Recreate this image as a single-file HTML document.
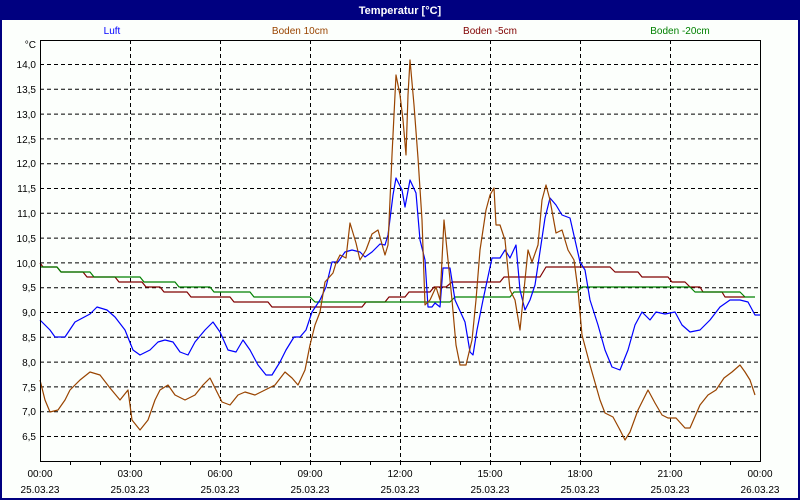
<!DOCTYPE html>
<html><head><meta charset="utf-8"><style>
html,body{margin:0;padding:0;background:#fcfffc}
svg{display:block;font-family:"Liberation Sans",sans-serif}
</style></head><body>
<svg width="800" height="500" viewBox="0 0 800 500" xmlns="http://www.w3.org/2000/svg">
<rect x="0" y="0" width="800" height="500" fill="#fcfffc"/>
<rect x="1" y="1" width="798" height="498" fill="none" stroke="#000080" stroke-width="2"/>
<rect x="0" y="0" width="800" height="20" fill="#000080"/>
<text x="400" y="14" fill="#fff" font-size="11" font-weight="bold" text-anchor="middle">Temperatur [°C]</text>
<g font-size="10" text-anchor="middle">
<text x="112" y="34" fill="#0000ff">Luft</text>
<text x="300" y="34" fill="#994400">Boden 10cm</text>
<text x="490" y="34" fill="#800000">Boden -5cm</text>
<text x="680" y="34" fill="#008000">Boden -20cm</text>
</g>
<text x="36" y="48" font-size="10" text-anchor="end">°C</text>
<g stroke="#000" stroke-dasharray="4,3" stroke-width="1">
<line x1="40" y1="64.5" x2="760" y2="64.5"/><line x1="40" y1="89.3" x2="760" y2="89.3"/><line x1="40" y1="114.1" x2="760" y2="114.1"/><line x1="40" y1="138.9" x2="760" y2="138.9"/><line x1="40" y1="163.7" x2="760" y2="163.7"/><line x1="40" y1="188.5" x2="760" y2="188.5"/><line x1="40" y1="213.3" x2="760" y2="213.3"/><line x1="40" y1="238.1" x2="760" y2="238.1"/><line x1="40" y1="262.9" x2="760" y2="262.9"/><line x1="40" y1="287.7" x2="760" y2="287.7"/><line x1="40" y1="312.5" x2="760" y2="312.5"/><line x1="40" y1="337.3" x2="760" y2="337.3"/><line x1="40" y1="362.1" x2="760" y2="362.1"/><line x1="40" y1="386.9" x2="760" y2="386.9"/><line x1="40" y1="411.7" x2="760" y2="411.7"/><line x1="40" y1="436.5" x2="760" y2="436.5"/>
<line x1="130.5" y1="40" x2="130.5" y2="461"/><line x1="220.5" y1="40" x2="220.5" y2="461"/><line x1="310.5" y1="40" x2="310.5" y2="461"/><line x1="400.5" y1="40" x2="400.5" y2="461"/><line x1="490.5" y1="40" x2="490.5" y2="461"/><line x1="580.5" y1="40" x2="580.5" y2="461"/><line x1="670.5" y1="40" x2="670.5" y2="461"/>
</g>
<g font-size="10" text-anchor="end">
<text x="36" y="68">14,0</text><text x="36" y="93">13,5</text><text x="36" y="118">13,0</text><text x="36" y="143">12,5</text><text x="36" y="167">12,0</text><text x="36" y="192">11,5</text><text x="36" y="217">11,0</text><text x="36" y="242">10,5</text><text x="36" y="267">10,0</text><text x="36" y="291">9,5</text><text x="36" y="316">9,0</text><text x="36" y="341">8,5</text><text x="36" y="366">8,0</text><text x="36" y="391">7,5</text><text x="36" y="415">7,0</text><text x="36" y="440">6,5</text>
</g>
<g stroke="#000" stroke-width="1">
<line x1="70.5" y1="461" x2="70.5" y2="465"/><line x1="100.5" y1="461" x2="100.5" y2="465"/><line x1="130.5" y1="461" x2="130.5" y2="465"/><line x1="160.5" y1="461" x2="160.5" y2="465"/><line x1="190.5" y1="461" x2="190.5" y2="465"/><line x1="220.5" y1="461" x2="220.5" y2="465"/><line x1="250.5" y1="461" x2="250.5" y2="465"/><line x1="280.5" y1="461" x2="280.5" y2="465"/><line x1="310.5" y1="461" x2="310.5" y2="465"/><line x1="340.5" y1="461" x2="340.5" y2="465"/><line x1="370.5" y1="461" x2="370.5" y2="465"/><line x1="400.5" y1="461" x2="400.5" y2="465"/><line x1="430.5" y1="461" x2="430.5" y2="465"/><line x1="460.5" y1="461" x2="460.5" y2="465"/><line x1="490.5" y1="461" x2="490.5" y2="465"/><line x1="520.5" y1="461" x2="520.5" y2="465"/><line x1="550.5" y1="461" x2="550.5" y2="465"/><line x1="580.5" y1="461" x2="580.5" y2="465"/><line x1="610.5" y1="461" x2="610.5" y2="465"/><line x1="640.5" y1="461" x2="640.5" y2="465"/><line x1="670.5" y1="461" x2="670.5" y2="465"/><line x1="700.5" y1="461" x2="700.5" y2="465"/><line x1="730.5" y1="461" x2="730.5" y2="465"/>
</g>
<g font-size="10" text-anchor="middle">
<text x="40" y="477">00:00</text><text x="130" y="477">03:00</text><text x="220" y="477">06:00</text><text x="310" y="477">09:00</text><text x="400" y="477">12:00</text><text x="490" y="477">15:00</text><text x="580" y="477">18:00</text><text x="670" y="477">21:00</text><text x="760" y="477">00:00</text>
<text x="40" y="493">25.03.23</text><text x="130" y="493">25.03.23</text><text x="220" y="493">25.03.23</text><text x="310" y="493">25.03.23</text><text x="400" y="493">25.03.23</text><text x="490" y="493">25.03.23</text><text x="580" y="493">25.03.23</text><text x="670" y="493">25.03.23</text><text x="760" y="493">26.03.23</text>
</g>
<g fill="none" stroke-width="1.2" stroke-linejoin="round">
<polyline stroke="#800000" points="40,263 43,267 57,267 61,272 83,272 87,277 115,277 119,282 142,282 146,287 160,287 164,292 187,292 191,297 230,297 234,302 268,302 272,307 362,307 366,302 385,302 389,297 405,297 409,292 430,292 434,287 446,287 452,282 500,282 504,277 540,277 543,272 546,267 610,267 615,272 638,272 642,277 668,277 672,282 685,282 690,287 700,287 703,292 722,292 725,297 745,297"/>
<polyline stroke="#008000" points="40,267 57,267 61,272 90,272 94,277 140,277 144,282 175,282 179,287 210,287 214,292 250,292 254,297 310,297 315,302 450,302 455,297 510,297 514,292 577,292 582,287 690,287 695,292 740,292 745,297 755,297"/>
<polyline stroke="#0000ff" points="40,320 50,330 55,337 65,337 75,322 90,314 97,307 107,310 115,317 125,330 133,350 140,355 150,350 158,342 165,340 173,342 180,352 188,355 195,342 205,330 213,322 220,332 228,350 236,352 243,340 250,350 258,365 266,375 272,375 280,362 286,350 294,337 300,337 306,330 312,312 320,300 326,287 332,262 338,262 345,252 352,250 360,252 365,257 372,252 380,244 385,245 388,235 393,195 396,178 402,190 405,207 410,180 416,193 420,240 425,260 428,307 432,307 435,303 440,307 443,268 450,268 455,300 465,322 470,352 473,355 477,330 483,300 492,258 500,258 505,250 510,258 516,245 520,290 525,310 530,300 535,285 545,218 550,198 556,205 562,215 570,218 575,240 580,262 585,270 590,300 598,325 605,350 612,367 620,370 628,350 635,325 642,312 650,320 656,312 665,314 675,312 682,325 690,332 700,330 710,320 720,307 730,300 740,300 748,302 755,315 760,315"/>
<polyline stroke="#994400" points="40,380 45,400 50,412 58,410 65,400 70,390 80,380 90,372 100,375 110,388 120,400 128,390 132,420 140,430 148,420 155,400 160,390 168,385 175,395 185,400 195,395 203,385 210,378 216,390 222,402 230,405 238,395 245,392 255,395 265,390 275,385 285,372 292,378 298,385 305,370 310,345 315,325 320,312 325,282 333,273 336,263 340,255 346,258 350,223 356,243 360,260 366,250 372,234 378,230 385,255 388,245 392,155 396,75 400,95 403,120 406,155 408,95 410,60 414,105 418,158 422,220 425,305 430,300 436,287 440,300 444,220 448,260 452,300 456,345 460,365 466,365 472,340 476,300 480,250 486,210 490,195 494,188 496,225 500,225 505,240 510,290 515,300 520,330 524,290 528,250 532,262 538,245 542,200 546,185 550,200 556,233 562,230 568,250 574,260 578,290 582,335 590,365 600,400 605,413 613,417 620,430 625,440 630,432 638,410 648,390 655,403 662,415 668,418 676,418 685,428 690,428 700,405 708,395 716,390 724,378 732,372 740,365 745,372 750,380 755,395"/>
</g>
<rect x="40.5" y="40.5" width="720" height="421" fill="none" stroke="#000" stroke-width="1"/>
</svg>
</body></html>
